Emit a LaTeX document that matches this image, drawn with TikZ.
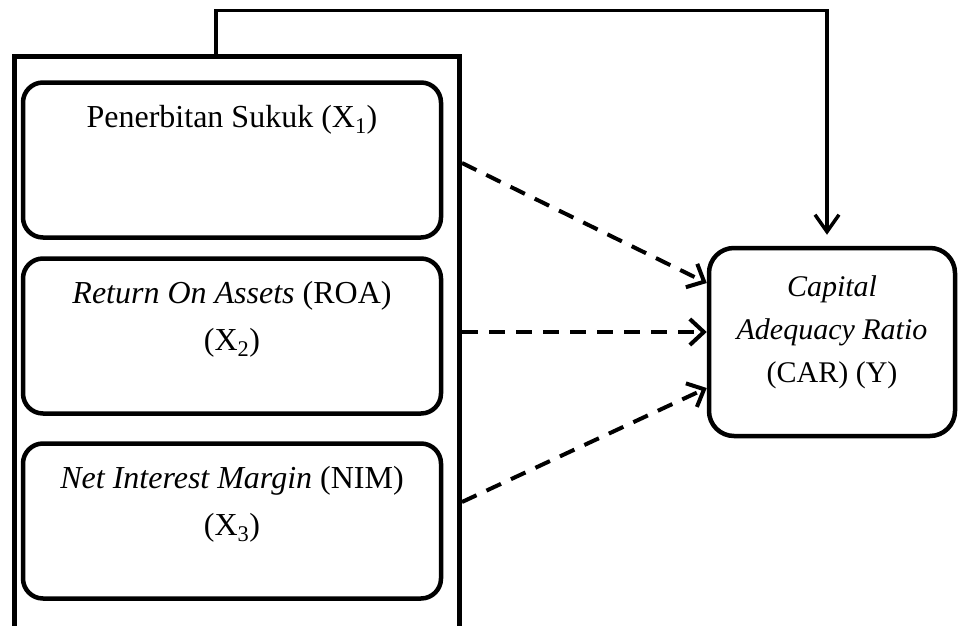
\documentclass[tikz,border=0pt]{standalone}
\usepackage{fontspec}
\setmainfont{Liberation Serif}
\usetikzlibrary{positioning,arrows.meta}

\begin{document}
\begin{tikzpicture}[x=1pt,y=-1pt,
	varbox/.style={draw,rounded corners=20pt,line width=4.5pt,minimum width=418pt,minimum height=155pt,inner sep=0pt},
	vartext/.style={align=center,inner sep=0pt,font=\fontsize{32}{47}\selectfont},
	cartext/.style={align=center,inner sep=0pt,font=\fontsize{30}{43}\selectfont},
	dasharrow/.style={line width=4pt,dash pattern=on 16pt off 11pt,-{Straight Barb[length=14pt,width=26pt]}},
	fbline/.style={line width=3.5pt,-{Straight Barb[length=17pt,width=24pt]}}]
	\useasboundingbox (0,0) rectangle (958,626);
	\node[draw,line width=5pt,minimum width=445pt,minimum height=640pt,inner sep=0pt] (group) at (237,377) {};
	
	\node[varbox] (x1) at (232,160) {};
	\node[varbox] (x2) at (232,336) {};
	\node[varbox] (x3) at (232,521) {};
	\node[varbox,minimum width=246pt,minimum height=188pt,rounded corners=25pt] (car) at (832,342) {};
	
	\node[vartext,below=25pt of x1.north] (x1text) {Penerbitan Sukuk (X\textsubscript{1})};
	\node[vartext,below=25pt of x2.north] (x2text) {\textit{Return On Assets} (ROA)\\(X\textsubscript{2})};
	\node[vartext,below=25pt of x3.north] (x3text) {\textit{Net Interest Margin} (NIM)\\(X\textsubscript{3})};
	\node[cartext,below=30pt of car.north] (cartext) {\textit{Capital}\\\textit{Adequacy Ratio}\\(CAR) (Y)};
	
	\draw[dasharrow] ([yshift=-3pt]group.east |- x1) -- ([yshift=59pt]car.west);
	\draw[dasharrow] ([yshift=4pt]group.east |- x2) -- ([yshift=10pt]car.west);
	\draw[dasharrow] ([yshift=19pt]group.east |- x3) -- ([yshift=-46pt]car.west);
	\draw[fbline,shorten >=11pt] ([xshift=-21pt]group.north) -- ++(0,-44) -| ([xshift=-5pt]car.north);
\end{tikzpicture}
\end{document}
